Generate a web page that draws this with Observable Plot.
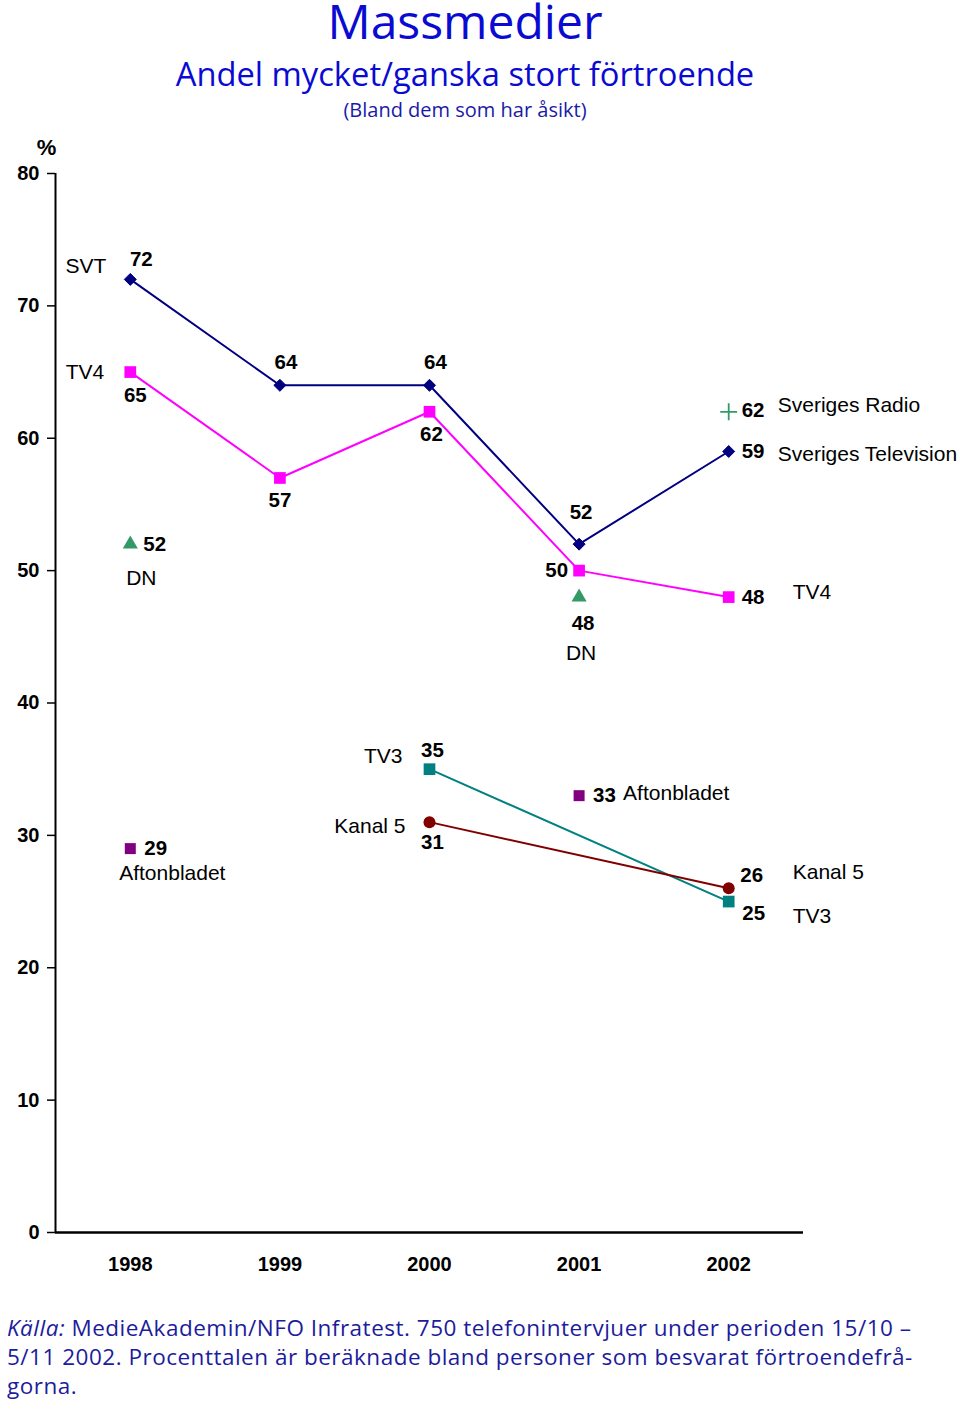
<!DOCTYPE html>
<html>
<head>
<meta charset="utf-8">
<script src="https://cdn.jsdelivr.net/npm/d3@7"></script>
<script src="https://cdn.jsdelivr.net/npm/@observablehq/plot@0.6"></script>
<style>
  html, body { margin: 0; padding: 0; background: #fff; }
  #page { position: relative; width: 960px; height: 1404px; overflow: hidden; }
  .t { position: absolute; left: 0; width: 930px; text-align: center; color: #0a0ad2; font-family: "Open Sans", "DejaVu Sans", sans-serif; white-space: nowrap; }
  #title { top: 1px; font-size: 48px; line-height: 40px; }
  #sub { top: 51px; font-size: 32.7px; }
  #sub2 { top: 96px; font-size: 20px; color: #1a1aa8; }
  #chart { position: absolute; left: 0; top: 130px; }
  #caption { position: absolute; left: 7px; top: 1313px; font-family: "Open Sans", "DejaVu Sans", sans-serif; font-size: 22.5px; letter-spacing: 0.5px; line-height: 29px; color: #1c1c9c; white-space: nowrap; }
</style>
</head>
<body>
<div id="page">
  <div class="t" id="title">Massmedier</div>
  <div class="t" id="sub">Andel mycket/ganska stort förtroende</div>
  <div class="t" id="sub2">(Bland dem som har åsikt)</div>
  <div id="chart"></div>
  <div id="caption"><i>Källa:</i> MedieAkademin/NFO Infratest. 750 telefonintervjuer under perioden 15/10 –<br>5/11 2002. Procenttalen är beräknade bland personer som besvarat förtroendefrå-<br>gorna.</div>
</div>
<script>
// ---- Data ----
const years = [1998, 1999, 2000, 2001, 2002];
const svtValues = [72, 64, 64, 52, 59];
const tv4Values = [65, 57, 62, 50, 48];
const dnYears = [1998, 2001];
const dnValues = [52, 48];
const aftonYears = [1998, 2001];
const aftonValues = [29, 33];
const tv3Years = [2000, 2002];
const tv3Values = [35, 25];
const kanal5Years = [2000, 2002];
const kanal5Values = [31, 26];
const srYears = [2002];
const srValues = [62];
const yTicks = [0, 10, 20, 30, 40, 50, 60, 70, 80];

// ---- Series definitions (build tables from arrays) ----
const series = {
  svt: {years: years, values: svtValues, color: "#000080", symbol: "diamond2", r: 5.4, line: true},
  tv4: {years: years, values: tv4Values, color: "#ff00ff", symbol: "square", r: 6.6, line: true},
  dn: {years: dnYears, values: dnValues, color: "#339966", symbol: "triangle", r: 5.6, line: false},
  afton: {years: aftonYears, values: aftonValues, color: "#800080", symbol: "square", r: 6.2, line: false},
  tv3: {years: tv3Years, values: tv3Values, color: "#008080", symbol: "square", r: 6.6, line: true},
  kanal5: {years: kanal5Years, values: kanal5Values, color: "#800000", symbol: "circle", r: 6, line: true},
  sr: {years: srYears, values: srValues, color: "#339966", symbol: "plus", r: 5.5, line: false}
};
const rows = s => series[s].years.map((yr, i) => ({year: yr, value: series[s].values[i]}));

// Label placement: [series, index, text (null = value), anchor, dx, dy, bold]
const labelPlacement = [
  ["svt", 0, null, "middle", 11, -20, true],
  ["svt", 1, null, "middle", 6, -23, true],
  ["svt", 2, null, "middle", 6, -23, true],
  ["svt", 3, null, "middle", 2, -32, true],
  ["svt", 4, null, "start", 13, 0, true],
  ["tv4", 0, null, "middle", 5, 23, true],
  ["tv4", 1, null, "middle", 0, 22, true],
  ["tv4", 2, null, "middle", 2, 23, true],
  ["tv4", 3, null, "end", -11, 0, true],
  ["tv4", 4, null, "start", 13, 0, true],
  ["dn", 0, null, "start", 13, 0, true],
  ["dn", 1, null, "middle", 4, 26, true],
  ["afton", 0, null, "start", 14, 0, true],
  ["afton", 1, null, "start", 14, 0, true],
  ["tv3", 0, null, "middle", 3, -19, true],
  ["tv3", 1, null, "middle", 25, 12, true],
  ["kanal5", 0, null, "middle", 3, 20, true],
  ["kanal5", 1, null, "middle", 23, -13, true],
  ["sr", 0, null, "start", 13, -1, true],
  ["svt", 0, "SVT", "end", -24, -13, false],
  ["tv4", 0, "TV4", "end", -26, 0, false],
  ["svt", 4, "Sveriges Television", "start", 49, 3, false],
  ["tv4", 4, "TV4", "start", 64, -5, false],
  ["dn", 0, "DN", "middle", 11, 34, false],
  ["dn", 1, "DN", "middle", 2, 56, false],
  ["afton", 0, "Aftonbladet", "middle", 42, 25, false],
  ["afton", 1, "Aftonbladet", "start", 44, -2, false],
  ["tv3", 0, "TV3", "end", -27, -13, false],
  ["tv3", 1, "TV3", "start", 64, 15, false],
  ["kanal5", 0, "Kanal 5", "end", -24, 4, false],
  ["kanal5", 1, "Kanal 5", "start", 64, -16, false],
  ["sr", 0, "Sveriges Radio", "start", 49, -7, false]
];

const FONT = "'Liberation Sans', Arial, sans-serif";
const marks = [];

// axes
marks.push(Plot.axisY({ticks: yTicks, tickSize: 8, tickPadding: 8, tickFormat: d => String(d), fontSize: 20, fontWeight: "bold", label: null, stroke: "#000", strokeWidth: 1.5}));
marks.push(Plot.axisX({ticks: years, tickSize: 0, tickPadding: 24, tickFormat: d => String(d), fontSize: 20, fontWeight: "bold", label: null}));
marks.push(Plot.ruleX([1997.5], {y1: 0, y2: 80, stroke: "#000", strokeWidth: 2}));
marks.push(Plot.ruleY([0], {x1: 1997.5, x2: 2002.5, stroke: "#000", strokeWidth: 2.5}));
marks.push(Plot.text(["%"], {x: 1997.5, y: 80, frameAnchor: "middle", dx: -9, dy: -26, fontSize: 22, fontWeight: "bold", fill: "#000"}));

// lines
for (const key of Object.keys(series)) {
  const s = series[key];
  if (s.line) marks.push(Plot.line(rows(key), {x: "year", y: "value", stroke: s.color, strokeWidth: 2}));
}
// dots
for (const key of Object.keys(series)) {
  const s = series[key];
  const isStroke = s.symbol === "plus";
  marks.push(Plot.dot(rows(key), {x: "year", y: "value", symbol: s.symbol, r: s.r,
    fill: isStroke ? "none" : s.color, stroke: isStroke ? s.color : (s.symbol === "diamond2" ? s.color : "none"), strokeWidth: isStroke ? 1.8 : 1}));
}
// labels
const labelRows = labelPlacement.map(([k, i, txt, anchor, dx, dy, bold]) => ({
  year: series[k].years[i], value: series[k].values[i],
  text: txt === null ? String(series[k].values[i]) : txt, anchor, dx, dy, bold
}));
for (const d of labelRows) {
  marks.push(Plot.text([d], {x: "year", y: "value", text: "text", textAnchor: d.anchor, dx: d.dx, dy: d.dy,
    fontSize: d.bold ? 20.5 : 21, fontWeight: d.bold ? "bold" : "normal", fill: "#000"}));
}

const chart = Plot.plot({
  width: 960,
  height: 1170,
  marginLeft: 55,
  marginRight: 157,
  marginTop: 43,
  marginBottom: 68,
  x: {type: "linear", domain: [1997.5, 2002.5]},
  y: {domain: [0, 80]},
  style: {fontFamily: FONT, background: "#fff", color: "#000", overflow: "visible"},
  marks
});
document.getElementById("chart").appendChild(chart);
</script>
</body>
</html>
